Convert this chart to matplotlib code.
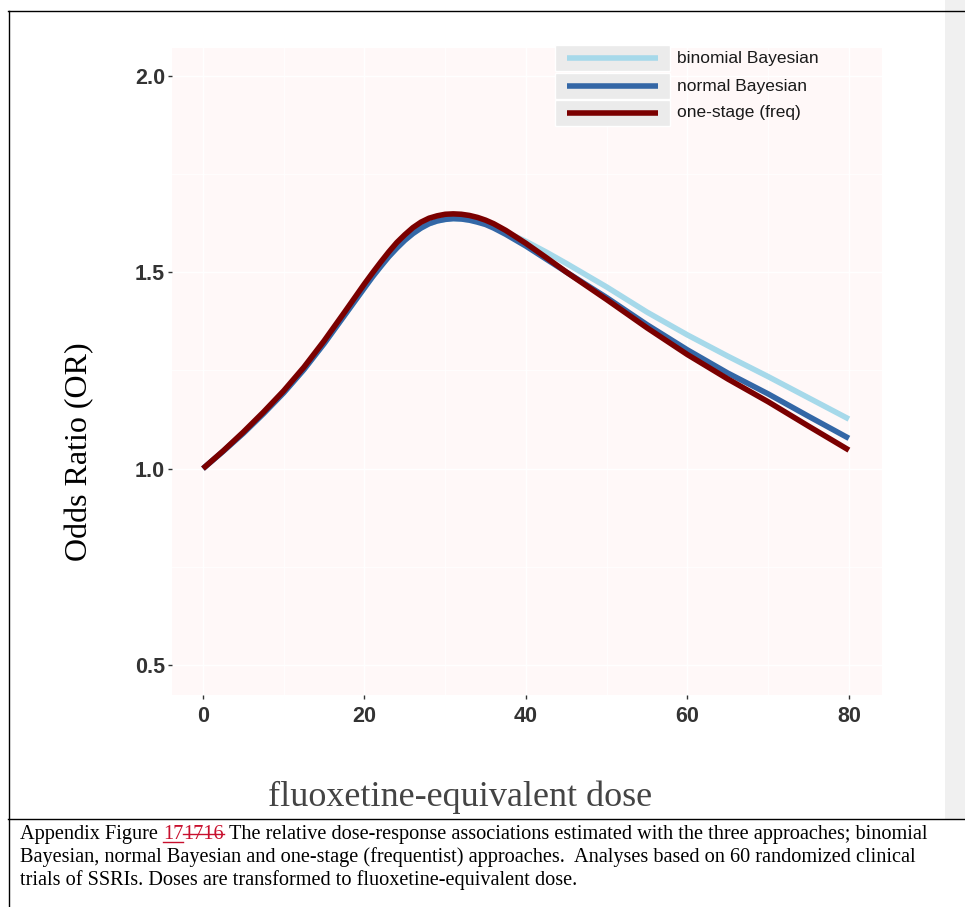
import matplotlib
matplotlib.use("Agg")
import matplotlib.pyplot as plt
from matplotlib.patches import Rectangle
from matplotlib.lines import Line2D

# Fluoxetine-equivalent dose grid and estimated odds ratios per approach
dose = [0, 2.5, 5, 7.5, 10, 12.5, 15, 17.5, 20, 21, 22, 23, 24, 25, 26, 27, 28, 29, 30,
        31, 32, 33, 34, 35, 36, 37.5, 40, 42.5, 45, 50, 55, 60, 65, 70, 75, 80]
or_binomial = [1.000, 1.044, 1.090, 1.140, 1.193, 1.252, 1.318, 1.389, 1.460, 1.488,
               1.514, 1.539, 1.561, 1.581, 1.598, 1.612, 1.623, 1.630, 1.634,
               1.636, 1.635, 1.633, 1.629, 1.623, 1.615, 1.602, 1.578, 1.551, 1.522,
               1.462, 1.398, 1.340, 1.286, 1.234, 1.180, 1.126]
or_normal = [1.000, 1.044, 1.090, 1.140, 1.193, 1.252, 1.318, 1.389, 1.460, 1.488,
             1.514, 1.539, 1.561, 1.581, 1.598, 1.612, 1.623, 1.630, 1.634,
             1.636, 1.635, 1.632, 1.627, 1.621, 1.612, 1.596, 1.566, 1.533, 1.500,
             1.435, 1.366, 1.302, 1.243, 1.190, 1.133, 1.077]
or_onestage = [1.000, 1.045, 1.093, 1.144, 1.198, 1.258, 1.325, 1.397, 1.470, 1.498,
               1.525, 1.551, 1.575, 1.595, 1.613, 1.627, 1.637, 1.643, 1.647,
               1.648, 1.647, 1.644, 1.639, 1.632, 1.623, 1.606, 1.573, 1.537, 1.500,
               1.430, 1.358, 1.290, 1.228, 1.170, 1.108, 1.047]

series_labels = ["binomial Bayesian", "normal Bayesian", "one-stage (freq)"]
series_colors = ["#a6d9ea", "#3467a6", "#7b0000"]
series_values = [or_binomial, or_normal, or_onestage]

x_ticks = [0, 20, 40, 60, 80]
y_ticks = [0.5, 1.0, 1.5, 2.0]

W, H = 965, 907
fig = plt.figure(figsize=(W / 100, H / 100), dpi=100)
fig.patch.set_facecolor("white")

sans = ["Liberation Sans", "DejaVu Sans"]
serif = ["Liberation Serif", "DejaVu Serif"]


def fx(px):
    return px / W


def fy(py):
    return 1 - py / H


# page decorations: grey margin strip and the table rules
fig.add_artist(Rectangle((fx(945), fy(819)), fx(20), 819 / H,
                         transform=fig.transFigure, facecolor="#f0f0f0", edgecolor="none", zorder=0))
fig.add_artist(Line2D([fx(8), 1], [fy(10.5), fy(10.5)], transform=fig.transFigure, color="black", lw=1))
fig.add_artist(Line2D([fx(8), 1], [fy(819), fy(819)], transform=fig.transFigure, color="black", lw=1))
fig.add_artist(Line2D([fx(8.5), fx(8.5)], [fy(10.5), 0], transform=fig.transFigure, color="black", lw=1))

ax = fig.add_axes([fx(172), fy(695), fx(882) - fx(172), (695 - 48) / H])
ax.set_facecolor("#fff8f8")
for s in ax.spines.values():
    s.set_visible(False)

ax.set_xlim(-3.84, 84.1)
ax.set_ylim(0.424, 2.070)
ax.set_xticks(x_ticks)
ax.set_yticks(y_ticks)
ax.set_xticks([10, 30, 50, 70], minor=True)
ax.set_yticks([0.75, 1.25, 1.75], minor=True)
ax.grid(True, which="major", color="white", lw=1.0)
ax.grid(True, which="minor", color="white", lw=0.6)
ax.set_axisbelow(True)
ax.tick_params(which="minor", length=0)
ax.tick_params(which="major", length=3, width=1, color="#333333", pad=2)
ax.tick_params(axis="x", pad=5)
ax.set_xticklabels([str(v) for v in x_ticks], family=sans, fontweight="bold",
                   fontsize=15.5, color="#333333")
ax.set_yticklabels([f"{v:.1f}" for v in y_ticks], family=sans, fontweight="bold",
                   fontsize=15.5, color="#333333")

for vals, col in zip(series_values, series_colors):
    ax.plot(dose, vals, color=col, lw=4.0, solid_capstyle="butt", solid_joinstyle="round")

# legend with grey key boxes
row_top = [45, 73, 100]
for lab, col, top in zip(series_labels, series_colors, row_top):
    fig.add_artist(Rectangle((fx(555), fy(top + 26)), fx(115), 26 / H,
                             transform=fig.transFigure, facecolor="#ebebeb", edgecolor="white", lw=1))
    yc = fy(top + 13)
    fig.add_artist(Line2D([fx(567), fx(658)], [yc, yc], transform=fig.transFigure,
                          color=col, lw=4.0, solid_capstyle="butt"))
    fig.text(fx(677), yc, lab, family=sans, fontsize=12.5, color="#1a1a1a", va="center", ha="left")

# axis titles
fig.text(fx(80), fy(452), "Odds Ratio (OR)", family=serif, fontsize=23, rotation=90,
         ha="center", va="center", color="black")
fig.text(fx(460), fy(797), "fluoxetine-equivalent dose", family=serif, fontsize=26,
         ha="center", va="center", color="#444444")

# caption with tracked-change figure number
cap_size = 14.6
renderer = fig.canvas.get_renderer()


def width_of(s):
    t = fig.text(0, 0, s, family=serif, fontsize=cap_size)
    w = t.get_window_extent(renderer).width
    t.remove()
    return w


space_w = width_of("x x") - width_of("xx")
base1 = fy(839)
x = 20
pieces = [("Appendix Figure", "black", None), ("17", "#c8102e", "under"),
          ("1716", "#c8102e", "strike"),
          ("The relative dose-response associations estimated with the three approaches; binomial",
           "black", None)]
for i, (txt, col, deco) in enumerate(pieces):
    t = fig.text(fx(x), base1, txt, family=serif, fontsize=cap_size, color=col, va="baseline")
    w = t.get_window_extent(renderer).width
    if deco == "under":
        fig.add_artist(Line2D([fx(x), fx(x + w)], [base1 - 2.5 / H, base1 - 2.5 / H],
                              transform=fig.transFigure, color=col, lw=1))
    elif deco == "strike":
        fig.add_artist(Line2D([fx(x), fx(x + w)], [base1 + 5.5 / H, base1 + 5.5 / H],
                              transform=fig.transFigure, color=col, lw=1))
    x += w
    if i in (0, 2):
        x += space_w

fig.text(fx(20), fy(862), "Bayesian, normal Bayesian and one-stage (frequentist) approaches.  Analyses based on 60 randomized clinical",
         family=serif, fontsize=cap_size, color="black", va="baseline")
fig.text(fx(20), fy(885), "trials of SSRIs. Doses are transformed to fluoxetine-equivalent dose.",
         family=serif, fontsize=cap_size, color="black", va="baseline")

fig.savefig("out.png", dpi=100)
